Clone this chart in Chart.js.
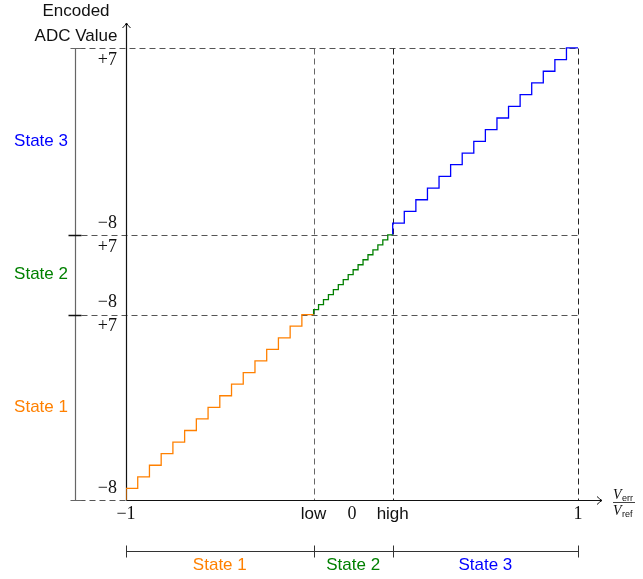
<!DOCTYPE html>
<html>
<head>
<meta charset="utf-8">
<script src="https://cdn.jsdelivr.net/npm/chart.js@4.4.0/dist/chart.umd.min.js"></script>
<style>
  html, body { margin: 0; padding: 0; background: #fff; }
</style>
</head>
<body>
<canvas id="mycanvas" width="643" height="579"></canvas>
<script>
// encoded ADC codes per state (4 bit signed)
var codes = [-8, -7, -6, -5, -4, -3, -2, -1, 0, 1, 2, 3, 4, 5, 6, 7];
var stateNames = ["State 1", "State 2", "State 3"];
var stateColors = ["#ff8000", "#008000", "#0000ff"];
// state boundaries in Verr/Vref (x) and on the encoded value axis (y)
var stateEdgesX = [-1, -0.17, 0.18, 1];
var stateEdgesY = [-1, -0.18, 0.173, 1];
var xTickValues = [-1, -0.17, 0, 0.18, 1];
var xTickLabels = ["\u22121", "low", "0", "high", "1"];
var xTickSerif = [true, false, true, false, true];
var codeLabelTop = "+7";
var codeLabelBottom = "\u22128";

var SANS = "Liberation Sans, Arial, sans-serif";
var SERIF = "Liberation Serif, Times New Roman, serif";

// one staircase per state, built from the code list
function stairs(s) {
	var x0 = stateEdgesX[s], x1 = stateEdgesX[s + 1];
	var y0 = stateEdgesY[s], y1 = stateEdgesY[s + 1];
	var w = (x1 - x0) / codes.length;
	var h = (y1 - y0) / codes.length;
	var pts = [{x: x0, y: y0}];
	for (var i in codes) {
		var k = codes[i] - codes[0];
		pts.push({x: x0 + k * w, y: y0 + (k + 1) * h});
	}
	pts.push({x: x1, y: y1});
	return pts;
}

var datasets = [];
for (var s = 0; s < 3; s++) {
	datasets.push({
		label: stateNames[s],
		data: stairs(s),
		borderColor: stateColors[s],
		borderWidth: 1.3,
		pointRadius: 0,
		stepped: true,
		fill: false
	});
}

function arrowHead(ctx, x, y, dir) {
	ctx.beginPath();
	if (dir == 'right') {
		ctx.moveTo(x - 5, y - 4);
		ctx.quadraticCurveTo(x - 2, y - 1, x, y);
		ctx.quadraticCurveTo(x - 2, y + 1, x - 5, y + 4);
	} else {
		ctx.moveTo(x - 4, y + 5);
		ctx.quadraticCurveTo(x - 1, y + 2, x, y);
		ctx.quadraticCurveTo(x + 1, y + 2, x + 4, y + 5);
	}
	ctx.stroke();
}

var deco = {
	id: 'deco',
	beforeDatasetsDraw: function(chart) {
		var ctx = chart.ctx, xs = chart.scales.x, ys = chart.scales.y;
		var px = function(v) { return Math.round(xs.getPixelForValue(v)) + 0.5; };
		var py = function(v) { return Math.round(ys.getPixelForValue(v)) + 0.5; };
		var left = px(stateEdgesX[0]), right = px(stateEdgesX[3]);
		var bottom = py(stateEdgesY[0]), top = py(stateEdgesY[3]);
		var bx = left - 51;
		ctx.save();
		ctx.lineWidth = 1;
		ctx.setLineDash([6, 4]);
		// horizontal dashed lines
		ctx.strokeStyle = '#555';
		ctx.beginPath();
		ctx.moveTo(bx + 4, top); ctx.lineTo(right, top);
		ctx.moveTo(bx + 6, py(stateEdgesY[1])); ctx.lineTo(right, py(stateEdgesY[1]));
		ctx.moveTo(bx + 6, py(stateEdgesY[2])); ctx.lineTo(right, py(stateEdgesY[2]));
		ctx.moveTo(bx + 4, bottom); ctx.lineTo(left, bottom);
		ctx.stroke();
		// vertical dashed lines
		ctx.strokeStyle = '#666';
		ctx.beginPath();
		ctx.moveTo(px(stateEdgesX[1]), top); ctx.lineTo(px(stateEdgesX[1]), bottom);
		ctx.stroke();
		ctx.strokeStyle = '#222';
		ctx.beginPath();
		ctx.moveTo(px(stateEdgesX[2]), top); ctx.lineTo(px(stateEdgesX[2]), bottom);
		ctx.moveTo(right, top); ctx.lineTo(right, bottom);
		ctx.stroke();
		ctx.setLineDash([]);

		// left bracket
		ctx.strokeStyle = '#666';
		ctx.lineWidth = 1.2;
		ctx.beginPath();
		ctx.moveTo(bx, top); ctx.lineTo(bx, bottom);
		ctx.moveTo(bx - 5, top); ctx.lineTo(bx + 6, top);
		ctx.moveTo(bx - 5, bottom); ctx.lineTo(bx + 6, bottom);
		ctx.stroke();
		ctx.strokeStyle = '#111';
		ctx.lineWidth = 1.5;
		ctx.beginPath();
		ctx.moveTo(bx - 7, py(stateEdgesY[1])); ctx.lineTo(bx + 6, py(stateEdgesY[1]));
		ctx.moveTo(bx - 7, py(stateEdgesY[2])); ctx.lineTo(bx + 6, py(stateEdgesY[2]));
		ctx.stroke();

		// bottom bracket
		var by = bottom + 51;
		ctx.strokeStyle = '#333';
		ctx.lineWidth = 1;
		ctx.beginPath();
		ctx.moveTo(left, by); ctx.lineTo(right, by);
		for (var i = 0; i < stateEdgesX.length; i++) {
			var ex = px(stateEdgesX[i]);
			ctx.moveTo(ex, by - 6); ctx.lineTo(ex, by + 6);
		}
		ctx.stroke();

		// axes with arrows
		ctx.strokeStyle = '#111';
		ctx.lineWidth = 1.2;
		ctx.beginPath();
		ctx.moveTo(left, bottom); ctx.lineTo(chart.chartArea.right, bottom);
		ctx.moveTo(left, bottom); ctx.lineTo(left, chart.chartArea.top);
		ctx.stroke();
		ctx.lineWidth = 1;
		arrowHead(ctx, chart.chartArea.right, bottom, 'right');
		arrowHead(ctx, left, chart.chartArea.top, 'up');
		ctx.restore();
	},
	afterDraw: function(chart) {
		var ctx = chart.ctx, xs = chart.scales.x, ys = chart.scales.y;
		var px = function(v) { return xs.getPixelForValue(v); };
		var py = function(v) { return ys.getPixelForValue(v); };
		var left = px(stateEdgesX[0]), bottom = py(stateEdgesY[0]);
		ctx.save();
		ctx.textBaseline = 'middle';
		ctx.textAlign = 'center';
		ctx.fillStyle = '#111';

		// y axis title
		ctx.font = '17px ' + SANS;
		ctx.fillText("Encoded", left - 50, 11);
		ctx.fillText("ADC Value", left - 50, 36);

		// x tick labels
		for (var i = 0; i < xTickValues.length; i++) {
			ctx.font = xTickSerif[i] ? '18px ' + SERIF : '17px ' + SANS;
			ctx.fillText(xTickLabels[i], px(xTickValues[i]), bottom + 14);
		}

		// code labels at state limits
		ctx.textAlign = 'right';
		ctx.font = '18px ' + SERIF;
		for (var s = 0; s < 3; s++) {
			ctx.fillText(codeLabelBottom, left - 9, py(stateEdgesY[s]) - 12);
			ctx.fillText(codeLabelTop, left - 9, py(stateEdgesY[s + 1]) + 12);
		}

		// state names
		ctx.textAlign = 'center';
		ctx.font = '17px ' + SANS;
		for (var s = 0; s < 3; s++) {
			ctx.fillStyle = stateColors[s];
			var midY = (py(stateEdgesY[s]) + py(stateEdgesY[s + 1])) / 2;
			ctx.fillText(stateNames[s], left - 85, midY);
			var midX = (px(stateEdgesX[s]) + px(stateEdgesX[s + 1])) / 2;
			ctx.fillText(stateNames[s], midX, bottom + 65);
		}

		// x axis label Verr / Vref
		var fx = chart.chartArea.right + 22;
		ctx.fillStyle = '#111';
		ctx.strokeStyle = '#111';
		ctx.lineWidth = 0.8;
		ctx.beginPath();
		ctx.moveTo(fx - 11, bottom + 2.5); ctx.lineTo(fx + 11, bottom + 2.5);
		ctx.stroke();
		ctx.textAlign = 'left';
		ctx.textBaseline = 'alphabetic';
		ctx.font = 'italic 14px ' + SERIF;
		ctx.fillText("V", fx - 11, bottom - 1);
		ctx.fillText("V", fx - 11, bottom + 15);
		ctx.font = '9px ' + SANS;
		ctx.fillText("err", fx - 2, bottom + 1);
		ctx.fillText("ref", fx - 2, bottom + 17);
		ctx.restore();
	}
};

var ctx = document.getElementById("mycanvas");

var adcChart = new Chart(ctx, {
	type: 'line',
	data: { datasets: datasets },
	options: {
		responsive: false,
		animation: false,
		layout: { padding: { left: 126, right: 41, top: 23, bottom: 79 } },
		scales: {
			x: { type: 'linear', min: -1, max: 1.106, display: false },
			y: { type: 'linear', min: -1, max: 1.11, display: false }
		},
		plugins: {
			legend: { display: false },
			tooltip: { enabled: false }
		}
	},
	plugins: [deco]
});
</script>
</body>
</html>
